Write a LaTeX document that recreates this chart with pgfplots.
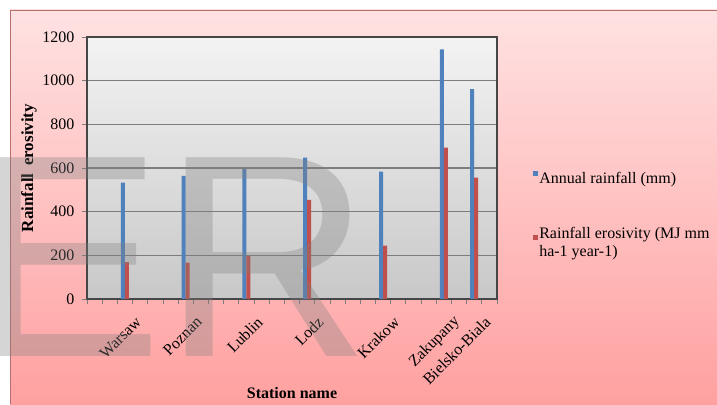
\documentclass[border=0pt]{standalone}
\usepackage{fontspec}
\setmainfont{Liberation Serif}
\newfontfamily\wmfont{Liberation Sans}
\usepackage{pgfplots}
\pgfplotsset{compat=1.18}

\definecolor{bgtop}{RGB}{255,226,226}
\definecolor{bgbot}{RGB}{255,160,160}
\definecolor{pltop}{RGB}{243,243,243}
\definecolor{plbot}{RGB}{200,200,200}
\definecolor{cblue}{RGB}{79,129,189}
\definecolor{cred}{RGB}{192,80,77}
\definecolor{gridc}{RGB}{125,125,125}
\definecolor{axc}{RGB}{70,70,70}

\begin{document}
\begin{tikzpicture}
\path[use as bounding box] (0pt,0pt) rectangle (717pt,404pt);
\fill[white] (0pt,0pt) rectangle (717pt,404pt);
\shade[top color=bgtop, bottom color=bgbot] (10pt,0pt) rectangle (717pt,394pt);
\draw[color={rgb,255:red,185;green,110;blue,110}, line width=1pt] (10.5pt,0pt) -- (10.5pt,393.5pt) -- (717pt,393.5pt);

\begin{axis}[
  at={(87pt,105pt)}, anchor=south west,
  scale only axis, width=410pt, height=262pt,
  xmin=-0.5, xmax=26.5, ymin=0, ymax=1200,
  ybar=0pt, bar width=4pt,
  axis background/.style={top color=pltop, bottom color=plbot},
  axis line style={draw=axc, line width=1pt},
  y axis line style={line width=1.8pt},
  tick align=outside, tick pos=left,
  major tick length=5pt,
  tick style={draw=gridc, line width=0.8pt},
  xtick={-0.5,0.5,...,26.5},
  xticklabel=\empty,
  extra x ticks={2,6,10,14,19,23,25},
  extra x tick labels={Warsaw,Poznan,Lublin,Lodz,Krakow,Zakupany,Bielsko-Biala},
  extra x tick style={major tick length=0pt, grid=none,
    tick label style={font=\fontsize{16}{18}\selectfont, xshift=15pt, yshift=-19pt, rotate=45, anchor=east, inner sep=2pt}},
  ytick={0,200,...,1200},
  yticklabel style={font=\fontsize{16}{18}\selectfont, xshift=-4pt},
  /pgf/number format/assume math mode=true,
  /pgf/number format/1000 sep={},
  ymajorgrids,
  grid style={draw=gridc, line width=1.5pt},
  ylabel={Rainfall\hspace{0.45em}erosivity},
  ylabel style={font=\bfseries\fontsize{17}{20}\selectfont, at={(axis description cs:-0.1415,0.5)}, anchor=center},
  xlabel={Station name},
  xlabel style={font=\bfseries\fontsize{16}{18}\selectfont, at={(axis description cs:0.5,-0.359)}, anchor=center},
  legend style={at={(rel axis cs:1.088,0.489)}, anchor=north west, draw=none, fill=none,
    font=\fontsize{16}{18}\selectfont, inner sep=0pt, row sep=42pt,
    nodes={inner xsep=1pt, inner ysep=0pt}, cells={anchor=west, align=left}},
  legend image code/.code={\fill[#1] (0pt,3pt) rectangle (5pt,8pt);},
]
\addplot[fill=cblue, draw=none] coordinates {(2,533) (6,564) (10,595) (14,647) (19,583) (23,1143) (25,961)};
\addplot[fill=cred, draw=none] coordinates {(2,169) (6,167) (10,198) (14,454) (19,245) (23,693) (25,556)};
\addlegendentry{Annual rainfall (mm)}
\addlegendentry{Rainfall erosivity (MJ mm\\ha-1 year-1)}
\end{axis}

\node[anchor=base west, inner sep=0pt, font=\wmfont\fontsize{289}{289}\selectfont, text=gray, opacity=0.33] at (-30pt,47pt) {ER};
\end{tikzpicture}
\end{document}
